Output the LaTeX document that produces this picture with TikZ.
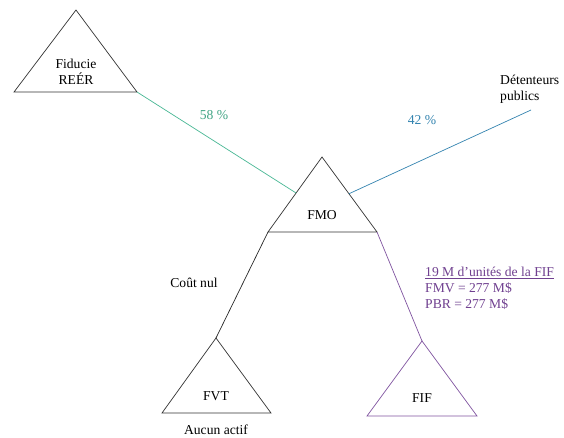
\documentclass[tikz,border=0pt]{standalone}
\usepackage{fontspec}
\setmainfont{Liberation Serif}
\usetikzlibrary{calc}
\definecolor{linkgreen}{RGB}{72,184,148}
\definecolor{linkblue}{RGB}{52,132,176}
\definecolor{linkpurple}{RGB}{128,84,160}
\definecolor{notepurple}{RGB}{112,64,144}
\begin{document}
\begin{tikzpicture}[x=1pt,y=-1pt,
  every node/.style={font=\fontsize{13.6}{16}\selectfont, inner sep=0pt},
  entity/.style={draw=black!80, line width=0.7pt, line join=miter},
  link/.style={line width=0.7pt},
  label text/.style={align=center}]
\useasboundingbox (0,0) rectangle (564,437);
\fill[white] (0,0) rectangle (564,437);

% corners of the four triangles
\coordinate (fidT) at (76,10);  \coordinate (fidL) at (14,92);   \coordinate (fidR) at (137,92);
\coordinate (fmoT) at (322,157); \coordinate (fmoL) at (268,232); \coordinate (fmoR) at (377,232);
\coordinate (fvtT) at (216,338); \coordinate (fvtL) at (162,413); \coordinate (fvtR) at (271,413);
\coordinate (fifT) at (422,341); \coordinate (fifL) at (367,416); \coordinate (fifR) at (477,416);
\coordinate (pub) at (531,110);

% entities
\draw[entity] (fidT) -- (fidL) -- (fidR) -- cycle;
\draw[entity] (fmoT) -- (fmoL) -- (fmoR) -- cycle;
\draw[entity] (fvtT) -- (fvtL) -- (fvtR) -- cycle;
\draw[entity, draw=linkpurple] (fifT) -- (fifL) -- (fifR) -- cycle;

\node[label text] (fid) at (76,72) {Fiducie\\REÉR};
\node (fmo) at (322,215) {FMO};
\node (fvt) at (216,396) {FVT};
\node (fif) at (422,398) {FIF};
\node (aucun) at (216,430) {Aucun actif};
\node[align=left, anchor=west] (pubtxt) at (500,89) {Détenteurs\\publics};

% ownership links
\draw[link, linkgreen] (fidR) -- ($(fmoT)!0.48!(fmoL)$) coordinate (fmoIn);
\draw[link, linkblue] ($(fmoT)!0.49!(fmoR)$) coordinate (fmoOut) -- (pub);
\draw[link, black!85] (fmoL) -- (fvtT);
\draw[link, linkpurple] (fmoR) -- (fifT);

% link labels
\node[text=linkgreen!90!black] (p58) at (214,115) {58 \%};
\node[text=linkblue] (p42) at (422,120) {42 \%};
\node (cout) at (194,283) {Coût nul};
\node[anchor=west, align=left, text=notepurple] (note) at (425,288)
  {\underline{19 M d’unités de la FIF}\\FMV = 277 M\$\\PBR = 277 M\$};
\end{tikzpicture}
\end{document}
